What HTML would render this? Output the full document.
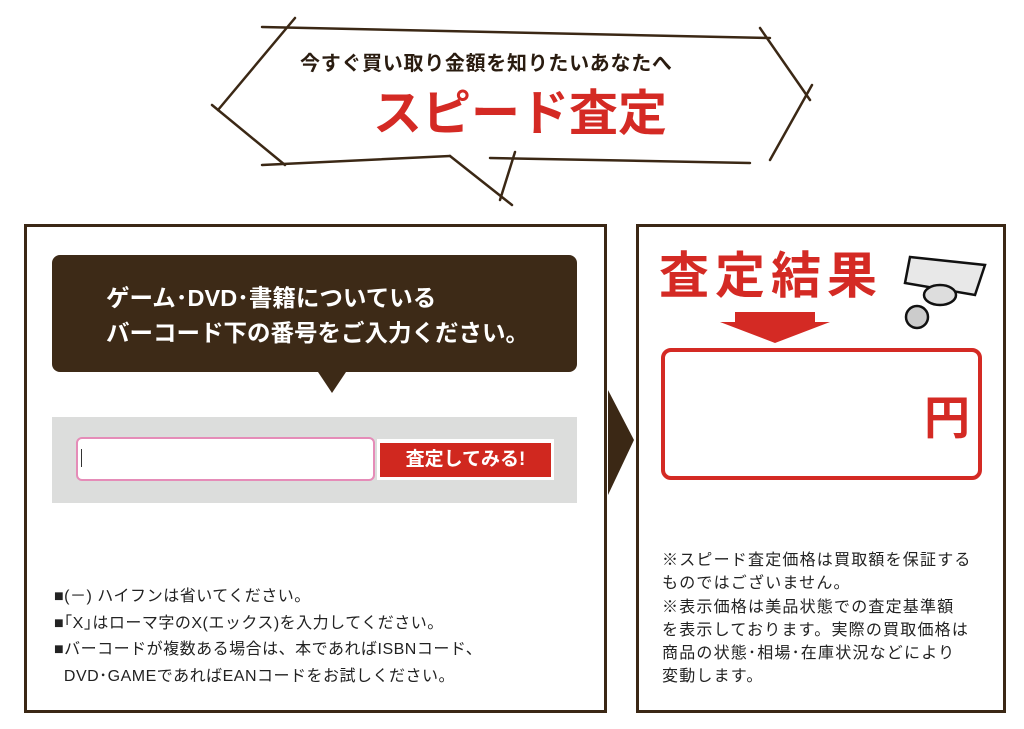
<!DOCTYPE html>
<html><head><meta charset="utf-8"><style>
body{margin:0;width:1024px;height:729px;background:#fff;position:relative;overflow:hidden;font-family:"Liberation Sans","Noto Sans CJK JP",sans-serif}
.a{position:absolute}
.box{position:absolute;border:3px solid #3b2815;box-sizing:border-box}
.note{position:absolute;font-size:15px;color:#222;white-space:nowrap}
</style></head><body>
<svg class="a" style="left:0;top:0" width="1024" height="729">
<g stroke="#3b2815" stroke-width="2.5" fill="none" stroke-linecap="round">
<path d="M262 27 L770 38"/><path d="M295 18 L218 110"/><path d="M212 105 L285 165"/>
<path d="M262 165 L450 156"/><path d="M490 158 L750 163"/><path d="M760 28 L810 100"/>
<path d="M812 85 L770 160"/><path d="M450 156 L512 205"/><path d="M515 152 L500 200"/>
</g>
<polygon points="608,390 634,440 608,495" fill="#3b2815"/>
<polygon points="735,312 815,312 815,322 830,322 775,343 720,322 735,322" fill="#d42a24"/>
<polygon points="318,372 346,372 332,393" fill="#3d2a17"/>
</svg>
<div class="a" style="left:300px;top:47px;font-size:20px;font-weight:bold;color:#2a1c10;white-space:nowrap;letter-spacing:0.7px">今すぐ買い取り金額を知りたいあなたへ</div>
<div class="a" style="left:373px;top:84px;font-size:49px;font-weight:bold;color:#d42a24;white-space:nowrap;line-height:60px">スピード査定</div>

<div class="box" style="left:24px;top:224px;width:583px;height:489px"></div>
<div class="box" style="left:636px;top:224px;width:370px;height:489px"></div>

<div class="a" style="left:52px;top:255px;width:525px;height:117px;background:#3d2a17;border-radius:8px"></div>
<div class="a" style="left:106px;top:281px;color:#fff;font-size:23.5px;line-height:35px;white-space:nowrap;font-weight:bold">ゲーム･DVD･書籍についている<br>バーコード下の番号をご入力ください。</div>

<div class="a" style="left:52px;top:417px;width:525px;height:86px;background:#dcdddc"></div>
<div class="a" style="left:76px;top:437px;width:299px;height:44px;background:#fff;border:2px solid #e58cb8;border-radius:6px;box-sizing:border-box"></div>
<div class="a" style="left:81px;top:449px;width:1px;height:18px;background:#333"></div>
<div class="a" style="left:377px;top:439px;width:177px;height:41px;background:#fff"></div>
<div class="a" style="left:380px;top:443px;width:171px;height:34px;background:#d0281f;color:#fff;font-weight:bold;font-size:19px;line-height:34px;text-align:center">査定してみる!</div>

<div class="note" style="left:54px;top:584px;line-height:26.5px;font-size:16px;letter-spacing:0.5px">■(－) ハイフンは省いてください。<br>■｢X｣はローマ字のX(エックス)を入力してください。<br>■バーコードが複数ある場合は、本であればISBNコード、<br>&nbsp;&nbsp;DVD･GAMEであればEANコードをお試しください。</div>

<div class="a" style="left:659px;top:244px;font-size:50px;font-weight:bold;color:#d42a24;letter-spacing:6px;white-space:nowrap;line-height:64px">査定結果</div>
<svg class="a" style="left:900px;top:245px" width="90" height="90">
<g stroke="#111" stroke-width="2.5" fill="none">
<path d="M10 12 L85 20 L75 50 L5 38 Z" fill="#e8e8e8"/>
<ellipse cx="40" cy="50" rx="16" ry="10" fill="#ddd"/>
<circle cx="17" cy="72" r="11" fill="#ccc"/>
</g></svg>
<div class="a" style="left:661px;top:348px;width:321px;height:132px;border:4px solid #d42a24;border-radius:10px;box-sizing:border-box"></div>
<div class="a" style="left:924px;top:390px;font-size:46px;font-weight:bold;color:#d42a24;line-height:56px">円</div>

<div class="note" style="left:662px;top:549px;line-height:23.3px;font-size:16px;letter-spacing:1.2px">※スピード査定価格は買取額を保証する<br>ものではございません。<br>※表示価格は美品状態での査定基準額<br>を表示しております。実際の買取価格は<br>商品の状態･相場･在庫状況などにより<br>変動します。</div>
</body></html>
